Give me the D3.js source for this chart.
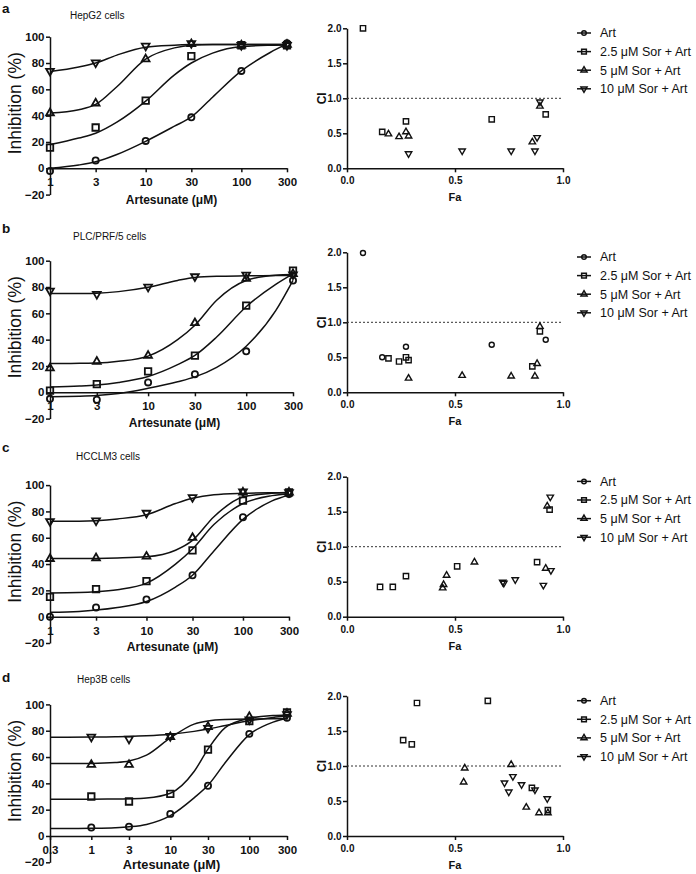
<!DOCTYPE html>
<html>
<head>
<meta charset="utf-8">
<script src="https://cdn.jsdelivr.net/npm/d3@7"></script>
<style>
    body { margin: 0; background: #fff; }
    svg text { font-family: "Liberation Sans", Arial, sans-serif; fill: #111; }
    .axis path, .axis line { stroke: #111; stroke-width: 1.5; }
    .axis text { font-weight: bold; }
    .leftAxis text { font-size: 11.5px; }
    .rightAxis text { font-size: 10px; }
</style>
</head>
<body>
<svg id="fig" width="696" height="874"></svg>
<script>
// ---------- data ----------
var panelLetters = ["a", "b", "c", "d"];
var panelTitles = ["HepG2 cells", "PLC/PRF/5 cells", "HCCLM3 cells", "Hep3B cells"];
var seriesNames = ["Art", "2.5 μM Sor + Art", "5 μM Sor + Art", "10 μM Sor + Art"];

var doses = [1, 3, 10, 30, 100, 300];
var doseTicks = [1, 3, 10, 30, 100, 300];
var doseTicksWide = [0.3, 1, 3, 10, 30, 100, 300];
var inhibitionTicks = [-20, 0, 20, 40, 60, 80, 100];
var ciTicks = [0, 0.5, 1, 1.5, 2];
var faTicks = [0, 0.5, 1];

// doses where the fitted curves were read
var fitDoses = [1, 2, 3, 5, 10, 20, 30, 50, 100, 200, 300];
var fitDosesWide = [0.3, 0.5, 1, 2, 3, 5, 10, 20, 30, 50, 100, 200, 300];

// inhibition (%) per series: Art, 2.5, 5, 10 uM Sor + Art
var hepg2Points = [
    [-2, 6, 20.8, 38.7, 74, 95],
    [15.7, 31, 51.4, 85.3, 93.5, 93.5],
    [42, 49.4, 83, 94.5, 93.5, 94],
    [73.9, 80.3, 93, 95, 93.5, 93.5]
];
var hepg2Fit = [
    [0, 2.5, 5, 10.5, 20.5, 32, 39, 54, 74, 88, 94.5],
    [18, 23, 26.6, 35, 51, 71, 80, 87.5, 92.5, 93.5, 93.7],
    [42, 44.5, 48.5, 62, 83, 91.5, 93.5, 94, 94, 94, 94],
    [73.5, 77, 80, 86, 92, 93.5, 94, 94, 94, 94, 94]
];
var plcPoints = [
    [-5, -5.7, 7.5, 13.7, 31.1, 85],
    [1.2, 6.2, 15.9, 27.9, 65.9, 92.5],
    [18.4, 23.4, 27.9, 52.7, 86.3, 90],
    [77.1, 74.6, 80.1, 88, 89.3, 89.5]
];
var plcFit = [
    [-3.3, -3, -2.5, -1, 3, 8, 11.7, 19, 35, 62, 85],
    [4, 4.7, 5.5, 7.5, 12, 21, 28, 42, 65, 82, 90],
    [21.8, 22, 22.2, 23.5, 27.5, 40, 51, 70, 85, 89, 89.5],
    [75, 75.1, 75.3, 76.5, 79.8, 85, 87.3, 88.2, 88.5, 88.7, 88.8]
];
var hcclm3Points = [
    [0, 7, 13.1, 31.5, 75.6, 93.2],
    [15.1, 20.9, 27, 50.4, 88.2, 94.5],
    [44, 44.6, 45.8, 60, 94.5, 94.5],
    [72.5, 73, 78.8, 90.7, 95, 94.5]
];
var hcclm3Fit = [
    [3.3, 4, 5, 7, 11.5, 22.5, 31.5, 50, 74, 88, 92.5],
    [18, 18.3, 18.9, 20.5, 25.5, 40, 51.5, 70, 86, 92, 93.5],
    [44.2, 44.2, 44.3, 44.6, 45.5, 50.5, 58, 76, 91, 93.8, 94.3],
    [72.5, 72.6, 73, 74.3, 77.5, 86, 90, 92.7, 93.8, 94.2, 94.3]
];
var hep3bPoints = [
    [6.4, 7.1, 16.8, 38.2, 77.6, 89.8],
    [30, 26.2, 32, 65.6, 87.3, 94],
    [54.2, 54.2, 75.3, 83, 90.6, 93],
    [75.3, 73.8, 75.8, 82, 88.5, 92.5]
];
var hep3bFit = [
    [5.6, 5.6, 5.8, 6.3, 7, 8.8, 15.5, 29, 38.5, 56, 77, 86.5, 89.5],
    [28, 28, 28, 28.1, 28.3, 28.9, 32.5, 49, 66, 82.5, 89.5, 91.5, 92],
    [55, 55, 55.1, 55.8, 57, 61.4, 74.5, 85, 87.4, 88.5, 88.9, 89, 89],
    [75, 75.05, 75.2, 75.4, 75.6, 76.1, 77.3, 79.5, 81.3, 84, 87.5, 90.1, 91.1]
];

// combination index: [Fa, CI] per series (same order as legend)
var hepg2Ci = [
    [],
    [[0.074, 2.0], [0.163, 0.52], [0.273, 0.67], [0.67, 0.70], [0.92, 0.77]],
    [[0.192, 0.49], [0.241, 0.45], [0.273, 0.52], [0.285, 0.46], [0.858, 0.375], [0.893, 0.886]],
    [[0.285, 0.21], [0.533, 0.25], [0.76, 0.25], [0.87, 0.25], [0.88, 0.44], [0.893, 0.95]]
];
var plcCi = [
    [[0.074, 1.99], [0.163, 0.50], [0.273, 0.65], [0.67, 0.68], [0.92, 0.75]],
    [[0.192, 0.485], [0.241, 0.44], [0.273, 0.50], [0.285, 0.46], [0.858, 0.37], [0.893, 0.87]],
    [[0.285, 0.20], [0.533, 0.24], [0.76, 0.23], [0.87, 0.23], [0.88, 0.41], [0.893, 0.94]],
    []
];
var hcclm3Ci = [
    [],
    [[0.153, 0.425], [0.212, 0.425], [0.273, 0.58], [0.51, 0.72], [0.88, 0.78], [0.938, 1.53]],
    [[0.443, 0.41], [0.447, 0.458], [0.461, 0.59], [0.59, 0.78], [0.92, 0.69], [0.927, 1.58]],
    [[0.721, 0.495], [0.726, 0.48], [0.779, 0.53], [0.909, 0.45], [0.944, 0.66], [0.941, 1.71]]
];
var hep3bCi = [
    [],
    [[0.26, 1.37], [0.30, 1.31], [0.324, 1.90], [0.652, 1.93], [0.856, 0.687], [0.93, 0.37]],
    [[0.54, 0.77], [0.545, 0.97], [0.76, 1.02], [0.83, 0.41], [0.889, 0.33], [0.93, 0.33]],
    [[0.729, 0.76], [0.749, 0.63], [0.768, 0.85], [0.808, 0.735], [0.87, 0.66], [0.927, 0.535]]
];

// ---------- layout ----------
var panels = [
    {points: hepg2Points, fit: hepg2Fit, fitX: fitDoses, ci: hepg2Ci, ticks: doseTicks, xMin: 1},
    {points: plcPoints, fit: plcFit, fitX: fitDoses, ci: plcCi, ticks: doseTicks, xMin: 1},
    {points: hcclm3Points, fit: hcclm3Fit, fitX: fitDoses, ci: hcclm3Ci, ticks: doseTicks, xMin: 1},
    {points: hep3bPoints, fit: hep3bFit, fitX: fitDosesWide, ci: hep3bCi, ticks: doseTicksWide, xMin: 0.3}
];
var zeroY = [168.3, 392.3, 616.7, 836];
var leftEnd = [287, 293, 289, 287];
var letterY = [13, 233, 452, 682];
var titleY = [19, 240, 460, 683];
var titleX = [70, 73, 76, 77];
var xLabelDy = [35.5, 35, 34.5, 32.5];
var xLabelSize = [12, 12, 12, 12.8];

var markerShapes = [
    {type: d3.symbolCircle, rot: 0},
    {type: d3.symbolSquare, rot: 0},
    {type: d3.symbolTriangle, rot: 0},
    {type: d3.symbolTriangle, rot: 180}
];
var leftSizes = [30, 42, 26, 26];
var rightSizes = [20, 28, 18, 18];
var legendSizes = [16, 22, 16, 16];

var svg = d3.select("#fig");

function addMarker(g, s, x, y, size, sw) {
    g.append("path")
        .attr("d", d3.symbol().type(markerShapes[s].type).size(size)())
        .attr("transform", "translate(" + x + "," + y + ") rotate(" + markerShapes[s].rot + ")")
        .attr("fill", "none")
        .attr("stroke", "#111")
        .attr("stroke-width", sw);
}

panels.forEach(function(p, i) {
    var y0 = zeroY[i];
    var g = svg.append("g");

    // panel letter and title
    g.append("text").attr("x", 2).attr("y", letterY[i])
        .style("font-size", "13.5px").style("font-weight", "bold").text(panelLetters[i]);
    g.append("text").attr("x", titleX[i]).attr("y", titleY[i])
        .style("font-size", "10px").text(panelTitles[i]);

    // ----- left: dose response -----
    var x = d3.scaleLog().domain([p.xMin, 300]).range([50, leftEnd[i]]);
    var y = d3.scaleLinear().domain([-20, 100]).range([y0 + 26.3, y0 - 131.6]);

    g.append("g").attr("class", "axis leftAxis")
        .attr("transform", "translate(50,0)")
        .call(d3.axisLeft(y).tickValues(inhibitionTicks).tickSize(4).tickSizeOuter(0).tickPadding(1.5));

    g.append("g").attr("class", "axis leftAxis")
        .attr("transform", "translate(0," + y(0) + ")")
        .call(d3.axisBottom(x).tickValues(p.ticks).tickSize(4).tickSizeOuter(0).tickPadding(6)
            .tickFormat(function(d) { return d; }));

    g.append("text")
        .attr("transform", "translate(15," + (y0 - 65) + ") rotate(-90)")
        .attr("text-anchor", "middle").attr("dy", "0.35em")
        .style("font-size", "17.5px").text("Inhibition (%)");
    g.append("text")
        .attr("x", (50 + leftEnd[i]) / 2 + 3).attr("y", y0 + xLabelDy[i])
        .attr("text-anchor", "middle")
        .style("font-size", xLabelSize[i] + "px").style("font-weight", "bold").text("Artesunate (μM)");

    var line = d3.line()
        .x(function(d) { return x(d[0]); })
        .y(function(d) { return y(d[1]); })
        .curve(d3.curveMonotoneX);

    p.fit.forEach(function(vals) {
        g.append("path")
            .attr("d", line(vals.map(function(v, k) { return [p.fitX[k], v]; })))
            .attr("fill", "none").attr("stroke", "#111").attr("stroke-width", 1.5);
    });
    p.points.forEach(function(vals, s) {
        vals.forEach(function(v, k) {
            addMarker(g, s, x(doses[k]), y(v), leftSizes[s], 1.8);
        });
    });

    // ----- right: combination index -----
    var fx = d3.scaleLinear().domain([0, 1]).range([347, 563]);
    var cy = d3.scaleLinear().domain([0, 2]).range([y0, y0 - 140]);

    g.append("g").attr("class", "axis rightAxis")
        .attr("transform", "translate(347,0)")
        .call(d3.axisLeft(cy).tickValues(ciTicks).tickSize(4).tickSizeOuter(0).tickPadding(1.5)
            .tickFormat(d3.format(".1f")));
    g.append("g").attr("class", "axis rightAxis")
        .attr("transform", "translate(0," + y0 + ")")
        .call(d3.axisBottom(fx).tickValues(faTicks).tickSize(4).tickSizeOuter(0).tickPadding(5)
            .tickFormat(d3.format(".1f")));

    g.append("line")
        .attr("x1", fx(0)).attr("x2", fx(1)).attr("y1", cy(1)).attr("y2", cy(1))
        .attr("stroke", "#333").attr("stroke-width", 1).attr("stroke-dasharray", "2,2");

    g.append("text")
        .attr("transform", "translate(321.5," + (y0 - 70) + ") rotate(-90)")
        .attr("text-anchor", "middle").attr("dy", "0.35em")
        .style("font-size", "12px").style("font-weight", "bold").text("CI");
    g.append("text")
        .attr("x", fx(0.5)).attr("y", y0 + 29).attr("dy", "0.35em")
        .attr("text-anchor", "middle")
        .style("font-size", "11px").style("font-weight", "bold").text("Fa");

    p.ci.forEach(function(pts, s) {
        pts.forEach(function(d) {
            addMarker(g, s, fx(d[0]), cy(d[1]), rightSizes[s], 1.4);
        });
    });

    // legend
    seriesNames.forEach(function(name, s) {
        var ly = y0 - 135.3 + s * 18.6;
        g.append("line").attr("x1", 577).attr("x2", 591).attr("y1", ly).attr("y2", ly)
            .attr("stroke", "#111").attr("stroke-width", 1.5);
        addMarker(g, s, 584, ly, legendSizes[s], 1.5);
        g.append("text").attr("x", 600).attr("y", ly).attr("dy", "0.35em")
            .style("font-size", "12.5px").text(name);
    });
});
</script>
</body>
</html>
